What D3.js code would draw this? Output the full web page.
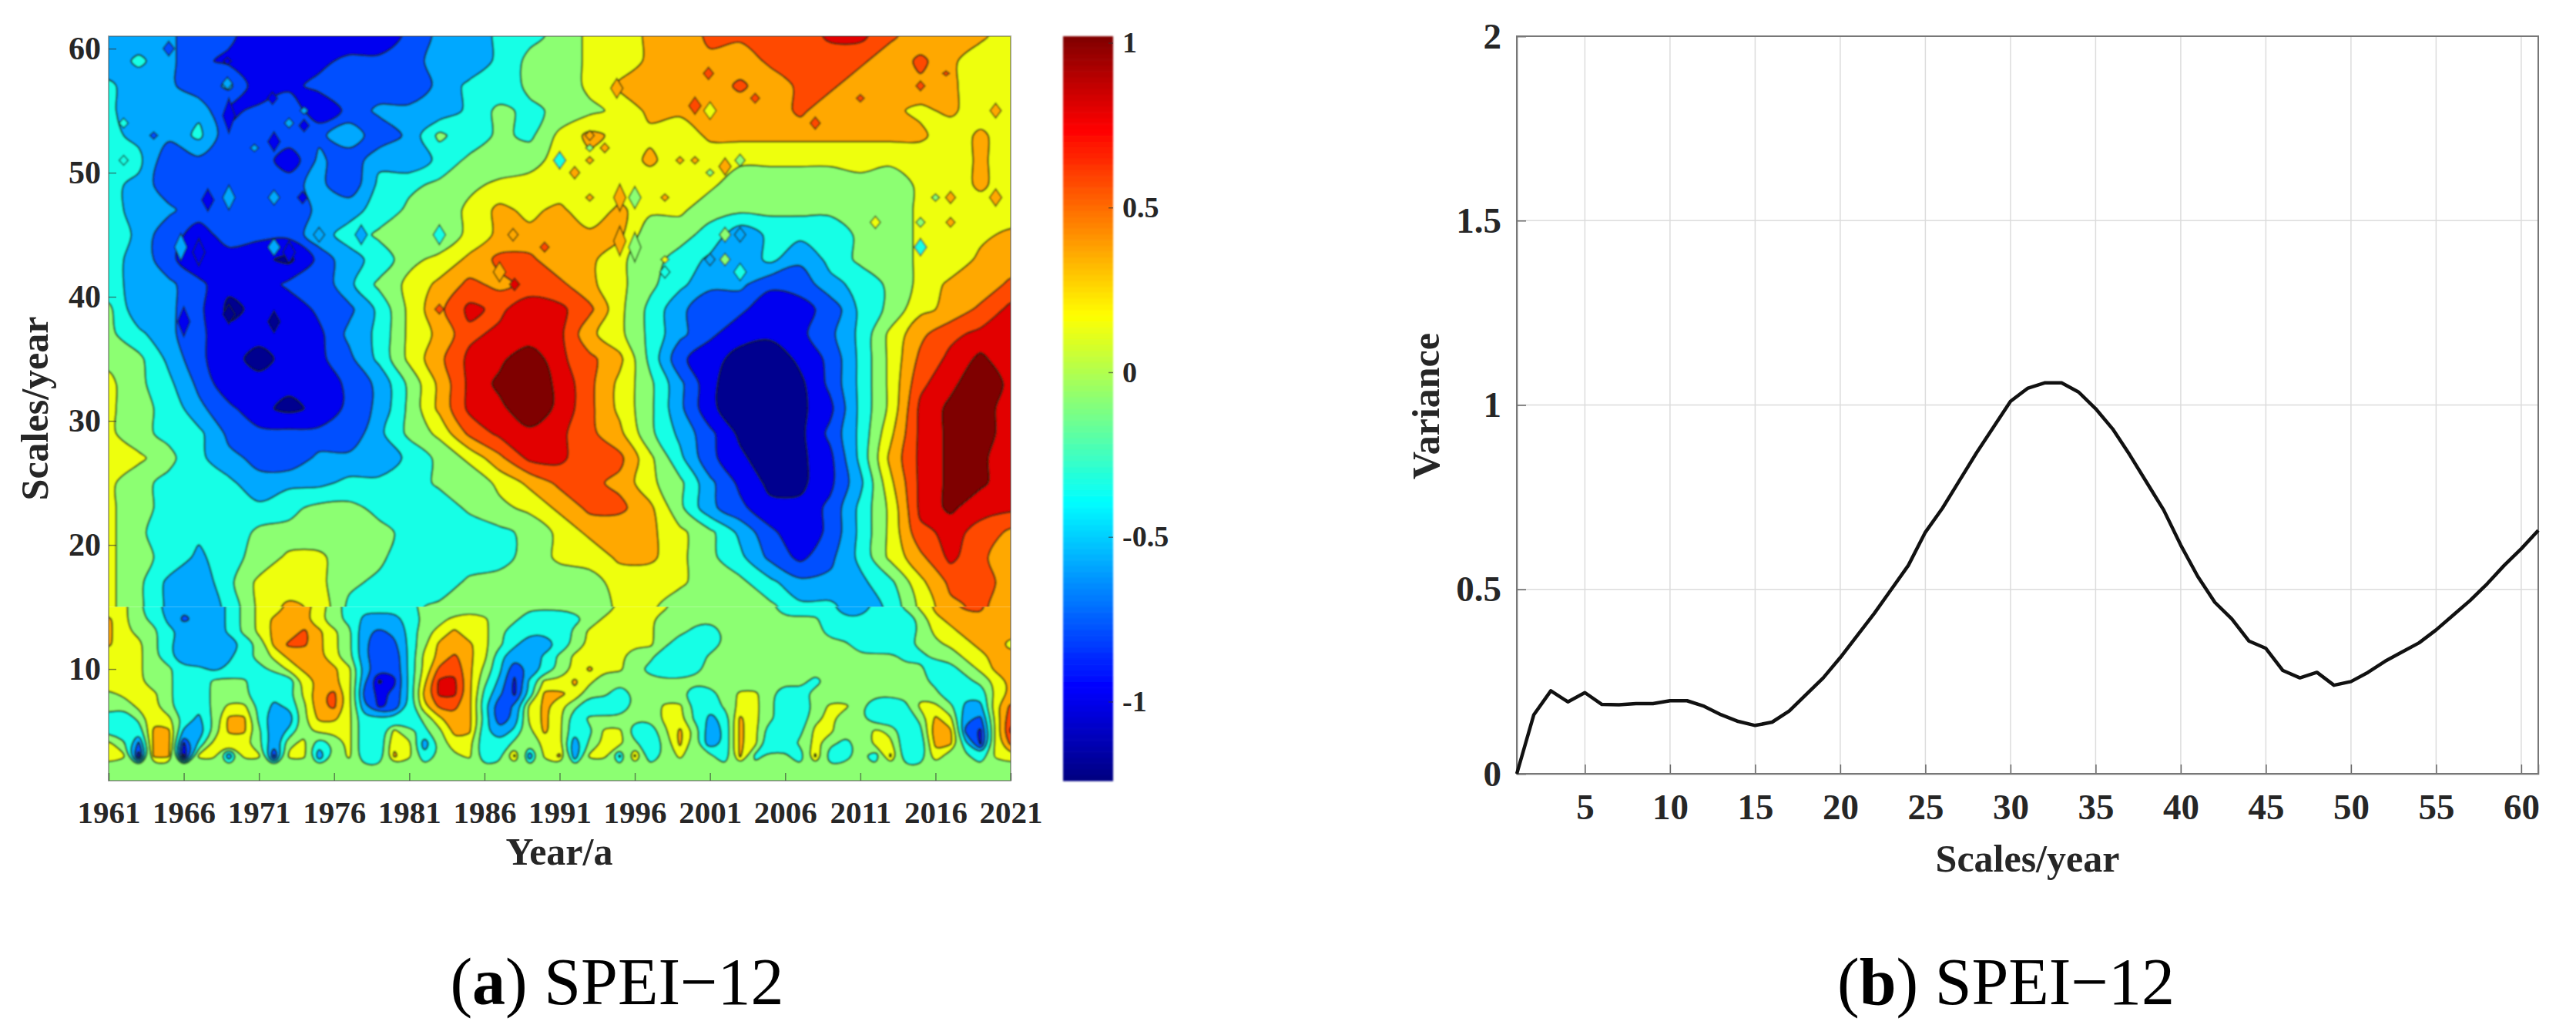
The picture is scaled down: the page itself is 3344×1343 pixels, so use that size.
<!DOCTYPE html>
<html>
<head>
<meta charset="utf-8">
<script src="https://d3js.org/d3.v7.min.js"></script>
<style>
  body { margin: 0; background: #fff; }
  text { font-family: "Liberation Serif", serif; fill: #262626; }
  .bold text, text.bold { font-weight: bold; }
</style>
</head>
<body>
<script>
// wavelet coefficients, in tenths
const lowYears = d3.range(1961, 2022);
const lowScales = d3.range(1, 16);
const lowGrid = [
  lowYears.map(() => -1),
  lowYears.map(() => -1),
  [2,1,-9,3,3,-10,1,1,-5,1,1,-8,1,1,-5,-1,1,-3,-3,3, 1,-3,-1,0,1,-3,-2,3,-5,1,3,-5,1,1,-4,3,-3,-1,1,-1, -1,-3,3,-2,-1,-1,-3,3,-3,-2,-1,-3,3,-3,-3,2,-1,-1,-3,1,2],
  [1,-1,-6,3,3,-8,-3,1,1,1,-1,-5,0,1,-3,-1,1,-3,-3,2, 1,-5,-1,2,1,-3,-3,-1,-1,1,1,-5,-1,1,1,-1,-3,-1,3,-1, -5,-3,3,1,-3,-3,-1,1,-1,-2,-1,1,1,-3,-3,3,3,-3,-8,1,5],
  [-2,-3,-3,3,3,-4,-5,-1,3,3,-1,-5,-3,0,1,1,1,-3,-3,1, -1,-2,0,3,3,-3,-5,-3,0,3,1,-3,-2,1,1,-3,-3,0,3,0, -5,-3,3,1,-3,-3,-2,1,1,-1,-1,1,0,-3,-2,4,3,-6,-8,1,7],
  [-2,-3,-1,2,1,-2,-4,-1,3,3,-2,-5,-5,0,3,3,1,-3,-3,-3, -3,-1,2,4,3,-2,-7,-5,1,3,1,-3,-1,-1,-1,-1,-1,1,1,-2, -4,-3,3,1,-1,-3,-3,0,1,-1,-1,-3,-3,-3,-1,3,1,-5,-6,1,6],
  [-1,-1,1,1,-1,-3,-3,-1,1,1,-2,-4,-3,0,4,5,1,-5,-8,-7, -3,2,5,5,3,-3,-7,-5,1,3,1,-1,-3,-3,-3,-1,-1,1,1,-2, -3,-1,1,1,-1,-3,-3,-1,1,1,-1,-3,-3,-2,1,1,-1,-4,-4,2,5],
  [0,1,1,1,-1,-3,-3,-1,-1,-1,-3,-3,-2,1,4,5,1,-6,-8,-7, -3,3,7,7,3,-2,-5,-8,-3,3,3,2,-1,-1,-3,-1,-1,-1,-1,-3, -2,-1,1,1,-1,-3,-2,-1,-1,-1,-1,-1,-1,-1,0,-1,-3,-3,-3,1,3],
  [2,1,1,-1,-1,-3,-3,-1,-1,-1,-3,-3,-3,1,3,3,1,-5,-10,-8, -3,2,7,7,3,-1,-4,-8,-3,1,1,3,1,-1,-1,-1,-1,-1,-1,-1, -1,-1,-1,-1,-1,-1,-1,-2,-1,-1,-1,-1,-1,-1,-1,-2,-3,-2,-1,1,3],
  [2,1,1,-1,-1,-3,-3,-4,-3,-3,-2,-1,1,3,3,3,1,-4,-7,-7, -3,1,5,6,3,0,-3,-7,-5,-3,-1,1,3,1,1,-1,-2,-3,-3,-2, -1,-1,-1,-1,-1,-1,-1,-1,-1,-1,-1,-1,-1,-1,-1,-3,-2,-1,1,3,3],
  [1,1,1,-1,-3,-5,-5,-5,-4,-2,-1,1,3,3,3,1,-1,-5,-7,-7, -3,1,3,5,3,1,-3,-5,-5,-3,-1,1,1,1,1,-1,-1,-3,-3,-3, -1,-1,-1,-1,-1,-1,-1,-1,-1,-1,-1,-1,-1,-2,-2,-1,-1,1,2,3,3],
  [3,1,1,-1,-3,-5,-5,-5,-5,-3,-1,3,5,5,3,1,-1,-5,-7,-6, -3,0,3,3,3,1,-1,-3,-5,-5,-3,-1,1,1,1,1,1,-1,-3,-3, -3,-1,-1,-1,-1,-1,-1,-1,-1,-1,-3,-3,-3,-2,-1,0,1,2,3,3,2],
  [3,1,0,-1,-3,-4,-5,-5,-3,-1,1,3,3,5,3,1,-1,-5,-6,-5, -3,0,1,3,1,1,-1,-3,-3,-3,-3,-1,1,1,1,1,1,-1,-1,-2, -3,-1,-1,-1,-1,-1,-1,-1,-2,-3,-3,-3,-3,-3,-1,1,2,3,3,3,3],
  [3,1,-1,-2,-4,-6,-5,-5,-3,-1,1,3,3,3,1,-1,-2,-4,-4,-4, -3,-1,0,1,1,1,-1,-1,-3,-3,-3,-2,-1,1,1,1,1,-1,-1,-1, -1,-1,-1,-1,-1,-1,-1,-1,-3,-3,-3,-3,-3,-3,-1,2,3,3,4,3,3],
  [1,1,-1,-3,-4,-5,-5,-5,-3,-1,1,1,3,3,2,-1,-2,-3,-3,-3, -2,-1,-1,-1,0,-1,-1,-1,-1,-1,-1,-1,-1,-1,1,2,1,1,-1,-1, -1,-1,-1,-1,-1,-3,-3,-3,-3,-5,-5,-3,-3,-1,1,3,4,5,5,3,3]
];

const highYears = d3.range(1961, 2022, 2);
const highScales = d3.range(15, 62, 2);
const highGrid = [
  [1,-1,-4,-5,-3,1,3,2,-2,-3,-2,-1,0,-1,-1, -1,-1,1,1,-1,-1,-1,-1,-3,-3,-5,-3,1,4,5,3],
  [1,-1,-4,-5,-2,1,1,1,-1,-2,-3,-3,-1,-1,-1, -1,0,1,1,1,-1,-1,-3,-5,-5,-4,-2,2,5,5,4],
  [1,-1,-2,-4,-2,-1,1,1,-1,-1,-3,-3,-3,-2,-1, 1,1,3,3,1,-1,-3,-6,-8,-6,-3,1,4,7,5,3],
  [1,-1,-3,-3,-3,-1,-1,-1,-1,-1,-2,-3,-3,-2,-1, 1,3,3,3,1,-1,-4,-7,-9,-7,-3,1,6,7,6,4],
  [1,-1,-2,-3,-3,-3,-2,-1,-1,-2,-3,-3,-1,0,1, 3,5,5,3,-1,-5,-7,-9,-9,-7,-3,1,7,9,7,7],
  [1,-1,-2,-3,-3,-5,-4,-4,-3,-3,-3,-1,-1,1,3, 5,5,4,1,-1,-5,-8,-10,-10,-8,-4,2,7,9,9,7],
  [1,1,-1,-3,-5,-6,-7,-5,-5,-5,-3,-1,1,4,7, 7,5,5,1,-3,-7,-9,-11,-10,-8,-3,3,7,9,9,7],
  [1,-1,-2,-3,-6,-7,-7,-7,-7,-4,-1,1,5,7,8, 7,5,3,-1,-4,-7,-10,-11,-10,-7,-3,2,7,9,10,7],
  [1,-1,-2,-5,-7,-9,-10,-9,-7,-5,-1,3,7,8,10, 8,5,2,-1,-5,-9,-11,-11,-10,-8,-3,1,7,9,10,7],
  [1,-1,-3,-6,-9,-9,-9,-9,-7,-5,-1,3,7,9,10, 8,5,2,-1,-5,-9,-11,-11,-10,-7,-3,1,6,8,10,8],
  [0,-1,-4,-7,-9,-10,-9,-8,-6,-3,1,4,7,8,10, 7,5,3,-2,-7,-9,-10,-11,-9,-7,-3,1,5,7,9,7],
  [-1,-3,-5,-7,-9,-9,-9,-8,-5,-3,1,3,6,7,7, 7,3,1,-2,-5,-7,-9,-9,-8,-6,-3,1,4,6,7,7],
  [-1,-5,-5,-7,-10,-9,-9,-7,-6,-3,1,4,7,6,8, 7,5,1,-2,-5,-7,-7,-9,-8,-7,-3,-1,2,3,5,7],
  [-3,-4,-5,-7,-9,-9,-7,-7,-4,-1,1,3,5,4,5, 5,3,1,-1,-3,-5,-5,-7,-7,-4,-3,-1,1,3,3,5],
  [-3,-4,-7,-9,-8,-9,-10,-7,-4,-3,0,1,3,5,5, 3,3,1,-1,-2,-4,-5,-3,-5,-3,-1,-1,1,1,3,3],
  [-2,-4,-7,-8,-7,-7,-7,-4,-3,-1,-1,-1,1,3,3, 3,3,3,-1,-1,-2,-5,-3,-3,-3,-1,-1,1,1,2,3],
  [-3,-4,-5,-7,-7,-7,-7,-5,-4,-3,-1,-1,1,3,2, 3,1,3,1,1,-1,-1,-1,-1,-1,-1,-1,1,1,1,1],
  [-3,-4,-7,-6,-6,-7,-6,-5,-7,-3,-2,-1,0,1,1, 1,1,1,1,1,1,-1,-1,-1,-1,0,-1,1,1,3,1],
  [-3,-3,-7,-6,-6,-6,-9,-5,-7,-4,-5,-3,-1,-1,0, 1,2,1,3,1,1,1,1,1,1,1,1,1,1,3,1],
  [-3,-4,-5,-3,-7,-6,-6,-6,-4,-7,-5,-1,-3,-1,-2, 1,3,2,2,1,3,3,3,3,3,3,3,3,1,3,1],
  [-3,-5,-5,-4,-8,-7,-6,-9,-7,-5,-5,-5,-3,-1,-2, -1,0,1,3,3,3,3,3,5,3,3,3,2,3,1,1],
  [-3,-5,-5,-7,-5,-9,-8,-7,-7,-7,-7,-5,-3,-3,-1, -1,1,3,3,3,3,5,3,5,5,3,3,4,3,1,1],
  [-5,-3,-5,-7,-8,-9,-9,-8,-7,-7,-7,-4,-5,-3,-1, -1,1,1,3,3,4,3,5,5,5,5,3,5,3,1,1],
  [-5,-5,-5,-7,-7,-9,-9,-9,-9,-9,-7,-5,-5,-3,-2, -1,1,1,3,3,5,5,5,5,7,7,5,3,3,3,1]
];

// small closed islands between grid rows: year, scale, value, half-height in scale units
const islands = [
  [1965,60,-7,.6],[1968.9,59,-9,.3],[1968.9,57.2,-4,.5],[1971.9,56,-9,.5],[1974,55,-5,.3],[1974,53.8,-9,.5],[1973,54,-5,.4],
  [1969,54.6,-9,1.4],[1972,52.5,-9,.8],[1970.7,52,-5,.3],[1972,48,-4,.6],[1973.9,48,-9,.5],[1969,48,-4,1],[1967.6,47.8,-9,.9],
  [1975,45,-4,.6],[1977.8,45,-5,.8],[1965.8,44,-4,1.1],[1967,43.6,-9,1.1],[1973,43.6,-9,.9],[1972,44,-4,.7],[1966,38,-9,1.2],
  [1969,38.6,-10,.8],[1972,38,-10,.9],[1962,54,-2,.4],[1962,51,-2,.4],[1964,53,-7,.3],[1983,45,-3,.8],[1987.9,45,3,.5],
  [1983,39,5,.4],[1987,42,3,.8],[1988,41,7,.5],[1990,44,5,.4],[2000.9,58,5,.5],[2004,56,5,.4],[2011,56,5,.3],[2016.7,58,5,.2],
  [2015,57,5,.4],[2000,55.4,5,.7],[2001,55,1,.7],[2008,54,5,.5],[1994.8,56.8,3,.8],[1993,53,3,.4],[1993,52,-1,.3],[1994,52,3,.4],
  [1991,51,-3,.7],[1993,51,3,.3],[1992,50,3,.5],[2002,50.5,3,.7],[2003,51,-1,.5],[2001,50,-1,.3],[1999,51,3,.3],[2000,51,3,.3],
  [1996,48,-1,.9],[1995,48,3,1.1],[1998,48,3,.3],[1993,48,3,.3],[2016,48,-1,.3],[2017,48,3,.5],[2020,48,3,.7],[2012,46,1,.5],
  [2015,46,-1,.4],[2017,46,3,.4],[2015,44,-3,.7],[1996,44,-1,1.2],[1995,44.5,3,1.2],[2002,45,-1,.6],[2003,45,-5,.6],[2001,43,-5,.5],
  [2002,43,-1,.5],[1998,43,1,.3],[1998,42,-3,.5],[2003,42,-3,.7],[2020,55,3,.6]
];

// contour bands, lowest first
const levels = [-9.5, -7.5, -5.5, -3.5, -1.5, 0.5, 2.5, 4.5, 6.5, 8.5];
const bandColors = ["#00008f", "#0000f0", "#0050ff", "#00a8ff", "#14ffe6", "#8cff72", "#eeff0c", "#ffa800", "#ff4a00", "#e20000", "#7f0000"];

const yearTicks = d3.range(1961, 2022, 5);
const scaleTicks = d3.range(10, 61, 10);
const colorTicks = [1, 0.5, 0, -0.5, -1];

// variance by scale, panel b
const varianceScales = d3.range(1, 62);
const variance = [0, .16, .225, .195, .22, .188, .187, .19, .19, .198, .198, .183, .16, .142, .131, .14, .17, .215, .26, .315,
  .375, .435, .5, .565, .655, .72, .795, .87, .94, 1.01, 1.045, 1.06, 1.06, 1.035, .99, .935, .865, .79, .715, .62,
  .535, .465, .42, .36, .34, .28, .26, .275, .24, .25, .275, .305, .33, .355, .39, .43, .47, .515, .565, .61, .66];
const varianceXTicks = d3.range(5, 61, 5);
const varianceYTicks = [0, 0.5, 1, 1.5, 2];

const svg = d3.select("body").append("svg").attr("width", 3344).attr("height", 1343).style("display", "block");
const defs = svg.append("defs");
defs.append("filter").attr("id", "soft").append("feGaussianBlur").attr("stdDeviation", 0.9);

// panel a
const x = d3.scaleLinear().domain([1961, 2021]).range([141, 1312]);
const y = d3.scaleLinear().domain([1, 61]).range([1013, 47]);

function drawField(grid, years, scales, id, curve) {
  const nCol = years.length, nRow = scales.length;
  const colToYear = d3.scaleLinear().domain(d3.range(nCol)).range(years);
  const rowToScale = d3.scaleLinear().domain(d3.range(nRow)).range(scales);
  // edge rows and columns are repeated so that rounded ring corners land outside the clip
  const pad = 2;
  const padRow = r => [r[0], r[0], ...r, r[nCol - 1], r[nCol - 1]];
  const padded = [padRow(grid[0]), padRow(grid[0]), ...grid.map(padRow), padRow(grid[nRow - 1]), padRow(grid[nRow - 1])];
  const ringLine = d3.line()
    .x(p => x(colToYear(p[0] - 0.5 - pad)))
    .y(p => y(rowToScale(p[1] - 0.5 - pad)))
    .curve(curve);
  const toPath = d => d.coordinates.map(poly => poly.map(ring => ringLine(ring.slice(0, -1))).join("")).join("");
  const x0 = x(years[0]), y0 = y(scales[nRow - 1]);
  const w = x(years[nCol - 1]) - x0, h = y(scales[0]) - y0;
  defs.append("clipPath").attr("id", id).append("rect").attr("x", x0).attr("y", y0).attr("width", w).attr("height", h);
  const g = svg.append("g").attr("clip-path", `url(#${id})`).append("g").attr("filter", "url(#soft)");
  g.append("rect").attr("x", x0).attr("y", y0).attr("width", w).attr("height", h).attr("fill", bandColors[0]);
  const contours = d3.contours().size([nCol + 2 * pad, nRow + 2 * pad]).thresholds(levels)(d3.merge(padded));
  g.selectAll("path").data(contours).join("path")
    .attr("d", toPath)
    .attr("fill", (d, i) => bandColors[i + 1])
    .attr("stroke", "#16240c")
    .attr("stroke-opacity", 0.8)
    .attr("stroke-width", 2.2)
    .attr("stroke-linejoin", "round");
  return g;
}
const highField = drawField(highGrid, highYears, highScales, "clipHigh", d3.curveCatmullRomClosed);
drawField(lowGrid, lowYears, lowScales, "clipLow", d3.curveBasisClosed);

const bandOf = v => d3.bisectRight(levels, v);
highField.selectAll("path.island").data(islands).join("path")
  .attr("class", "island")
  .attr("d", d => {
    const cx = x(d[0]), cy = y(d[1]), ry = y(d[1] - d[3]) - cy, rx = Math.min(8, 3 + ry * 0.45);
    return `M${cx},${cy - ry}L${cx + rx},${cy}L${cx},${cy + ry}L${cx - rx},${cy}Z`;
  })
  .attr("fill", d => bandColors[bandOf(d[2])])
  .attr("stroke", "#16240c")
  .attr("stroke-opacity", 0.75)
  .attr("stroke-width", 1.6);

svg.append("rect").attr("x", 141).attr("y", 47).attr("width", 1171).attr("height", 966)
  .attr("fill", "none").attr("stroke", "#444").attr("stroke-opacity", 0.45).attr("stroke-width", 2);

const xAxis = svg.append("g").attr("class", "bold").attr("transform", "translate(0,1013)")
  .call(d3.axisBottom(x).tickValues(yearTicks).tickFormat(d3.format("d")).tickSize(-10).tickPadding(26));
const yAxis = svg.append("g").attr("class", "bold").attr("transform", "translate(141,0)")
  .call(d3.axisLeft(y).tickValues(scaleTicks).tickSize(-10).tickPadding(10));
xAxis.selectAll("text").attr("font-size", 41);
yAxis.selectAll("text").attr("font-size", 42);

svg.append("text").attr("class", "bold").attr("x", 726).attr("y", 1122).attr("text-anchor", "middle").attr("font-size", 50).text("Year/a");
svg.append("text").attr("class", "bold").attr("transform", "translate(62,530) rotate(-90)").attr("text-anchor", "middle").attr("font-size", 50).text("Scales/year");

// colour bar
const cbar = d3.scaleLinear().domain([-1.24, 1.02]).range([1013, 47]);
const jet = t => {
  const ramp = v => Math.round(255 * Math.max(0, Math.min(1, v)));
  return d3.rgb(ramp(Math.min(4 * t - 1.5, 4.5 - 4 * t)), ramp(Math.min(4 * t - 0.5, 3.5 - 4 * t)), ramp(Math.min(4 * t + 0.5, 2.5 - 4 * t)));
};
svg.append("g").attr("filter", "url(#soft)").selectAll("rect").data(d3.range(128)).join("rect")
  .attr("x", 1380).attr("width", 65)
  .attr("y", d => cbar(-1.24 + 2.26 * (d + 1) / 128))
  .attr("height", 966 / 128 + 0.6)
  .attr("fill", d => jet((d + 0.5) / 128));
const cbarAxis = svg.append("g").attr("class", "bold").attr("transform", "translate(1445,0)")
  .call(d3.axisRight(cbar).tickValues(colorTicks).tickFormat(d => String(d)).tickSize(-6).tickPadding(12));
cbarAxis.selectAll("text").attr("font-size", 38);
svg.selectAll(".domain").attr("stroke", "none");
svg.selectAll(".tick line").attr("stroke", "#333").attr("stroke-opacity", 0.6).attr("stroke-width", 1.5);

// panel b
const x2 = d3.scaleLinear().domain([1, 61]).range([1969, 3295]);
const y2 = d3.scaleLinear().domain([0, 2]).range([1004, 47]);
const gridB = svg.append("g");
gridB.selectAll("line.v").data(varianceXTicks).join("line").attr("class", "v")
  .attr("x1", d => x2(d)).attr("x2", d => x2(d)).attr("y1", 47).attr("y2", 1004);
gridB.selectAll("line.h").data(varianceYTicks.slice(1, 4)).join("line").attr("class", "h")
  .attr("x1", 1969).attr("x2", 3295).attr("y1", d => y2(d)).attr("y2", d => y2(d));
gridB.selectAll("line").attr("stroke", "#dcdcdc").attr("stroke-width", 1.5);

const xAxis2 = svg.append("g").attr("class", "bold").attr("transform", "translate(0,1004)")
  .call(d3.axisBottom(x2).tickValues(varianceXTicks).tickSize(-12).tickPadding(26));
const yAxis2 = svg.append("g").attr("class", "bold").attr("transform", "translate(1969,0)")
  .call(d3.axisLeft(y2).tickValues(varianceYTicks).tickFormat(d => String(d)).tickSize(-12).tickPadding(20));
xAxis2.selectAll("text").attr("font-size", 47);
yAxis2.selectAll("text").attr("font-size", 47);
xAxis2.selectAll(".domain, .tick line").attr("stroke", "#666").attr("stroke-width", 1.5);
yAxis2.selectAll(".domain, .tick line").attr("stroke", "#666").attr("stroke-width", 1.5);
svg.append("rect").attr("x", 1969).attr("y", 47).attr("width", 1326).attr("height", 957)
  .attr("fill", "none").attr("stroke", "#777").attr("stroke-width", 2);

svg.append("path").datum(variance)
  .attr("d", d3.line().x((d, i) => x2(varianceScales[i])).y(d => y2(d)))
  .attr("fill", "none").attr("stroke", "#111").attr("stroke-width", 4.5).attr("stroke-linejoin", "round");

svg.append("text").attr("class", "bold").attr("x", 2632).attr("y", 1131).attr("text-anchor", "middle").attr("font-size", 50).text("Scales/year");
svg.append("text").attr("class", "bold").attr("transform", "translate(1868,527) rotate(-90)").attr("text-anchor", "middle").attr("font-size", 50).text("Variance");

// captions
function caption(cx, letter) {
  const t = svg.append("text").attr("x", cx).attr("y", 1303).attr("text-anchor", "middle").attr("font-size", 86).style("fill", "#000");
  t.append("tspan").text("(");
  t.append("tspan").attr("font-weight", "bold").text(letter);
  t.append("tspan").text(") SPEI\u221212");
}
caption(801, "a");
caption(2604, "b");
</script>
</body>
</html>
